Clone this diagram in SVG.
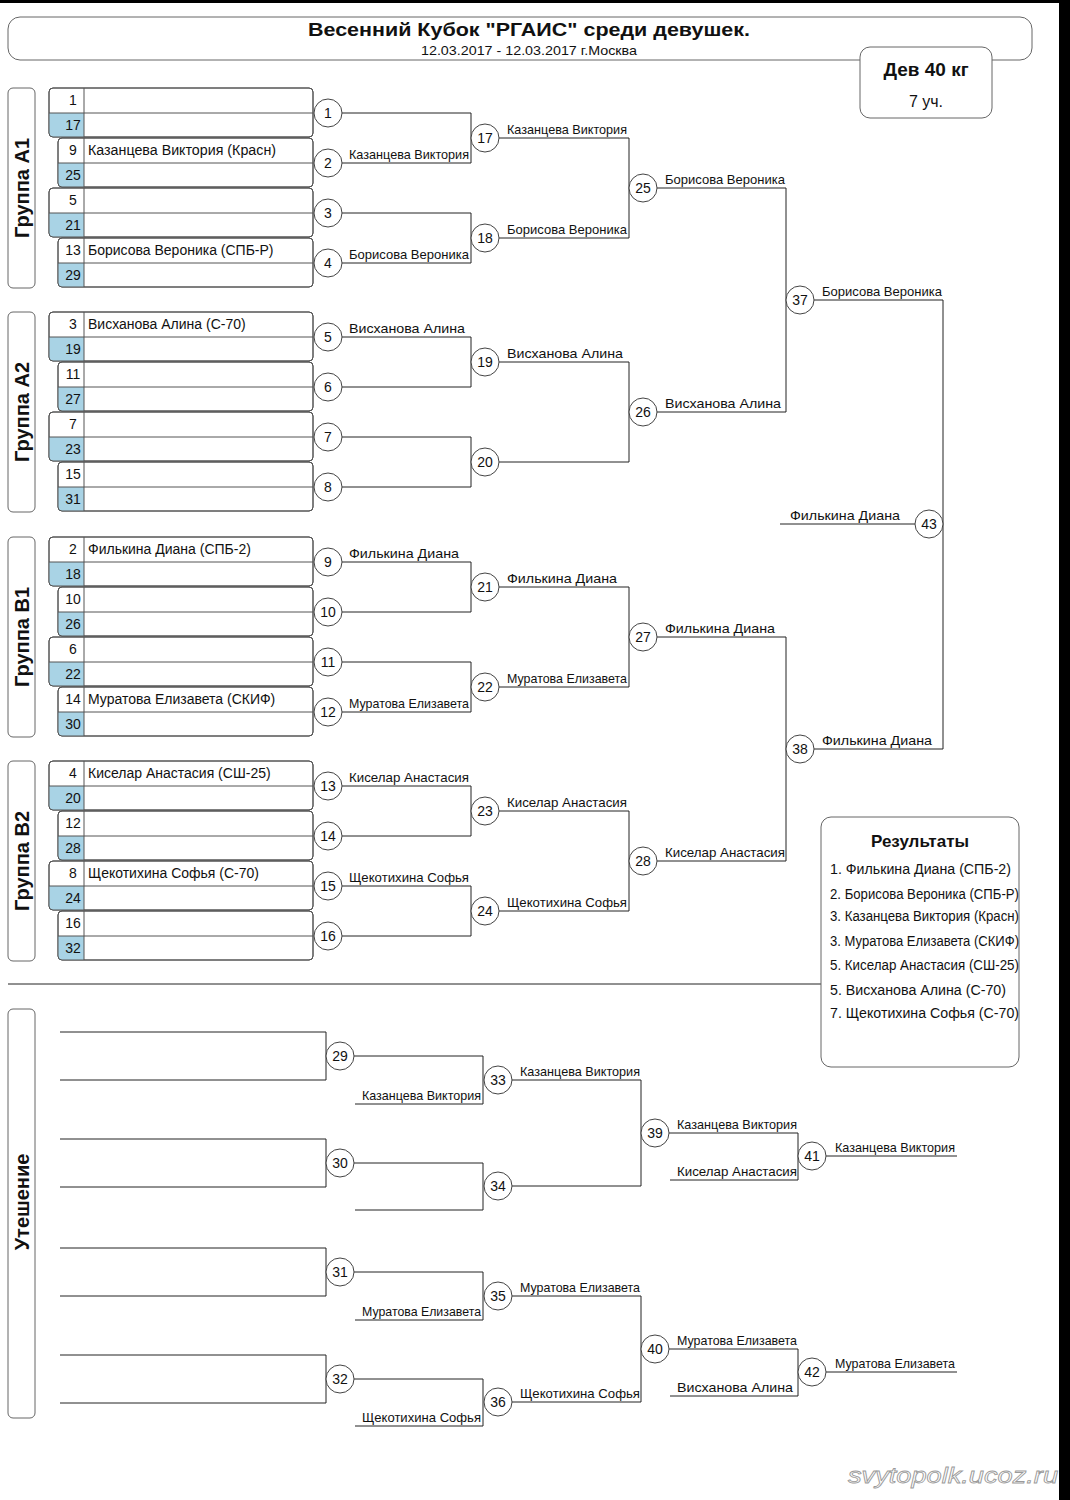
<svg xmlns="http://www.w3.org/2000/svg" width="1070" height="1500" viewBox="0 0 1070 1500">
<style>
text{font-family:"Liberation Sans",Arial,sans-serif;fill:#111}
.bx{fill:#fff;stroke:#555;stroke-width:1}
.bo{fill:none;stroke:#555;stroke-width:1}
.bl{fill:#a9d3e5}
.dv{stroke:#555;stroke-width:1}
.c{fill:#fff;stroke:#444;stroke-width:1}
.cn{font-size:14px;text-anchor:middle}
.en{font-size:14px}
.num{font-size:14px;text-anchor:middle}
.w{font-size:13px}
.ln{fill:none;stroke:#222;stroke-width:1}
.gb{fill:#fff;stroke:#666;stroke-width:1}
.gt{font-size:20px;font-weight:bold;text-anchor:middle}
.ri{font-size:14px}
</style>
<defs>
<g id="circ"><circle class="c" r="14"/></g>
</defs>
<rect x="0" y="0" width="1070" height="1500" fill="#fff"/>
<rect x="0" y="0" width="1070" height="3" fill="#000"/>
<rect x="1059" y="0" width="11" height="1500" fill="#000"/>

<g id="header">
<rect class="gb" x="8" y="17" width="1024" height="43" rx="12"/>
<text x="529" y="36" font-size="18.5" font-weight="bold" text-anchor="middle" textLength="442" lengthAdjust="spacingAndGlyphs">Весенний Кубок "РГАИС" среди девушек.</text>
<text x="529" y="55" font-size="13" text-anchor="middle" textLength="216" lengthAdjust="spacingAndGlyphs">12.03.2017 - 12.03.2017 г.Москва</text>
</g>
<g id="weight">
<rect class="gb" x="860" y="47" width="132" height="71" rx="10"/>
<text x="926" y="76" font-size="19" font-weight="bold" text-anchor="middle">Дев 40 кг</text>
<text x="926" y="107" font-size="16" text-anchor="middle">7 уч.</text>
</g>

<g id="group-labels">
<rect class="gb" x="8" y="88" width="27" height="200" rx="5"/>
<text class="gt" transform="translate(29,188) rotate(-90)">Группа А1</text>
<rect class="gb" x="8" y="312" width="27" height="200" rx="5"/>
<text class="gt" transform="translate(29,412) rotate(-90)">Группа А2</text>
<rect class="gb" x="8" y="537" width="27" height="200" rx="5"/>
<text class="gt" transform="translate(29,637) rotate(-90)">Группа В1</text>
<rect class="gb" x="8" y="761" width="27" height="200" rx="5"/>
<text class="gt" transform="translate(29,861) rotate(-90)">Группа В2</text>
<rect class="gb" x="8" y="1009" width="27" height="409" rx="5"/>
<text class="gt" transform="translate(29,1202) rotate(-90)">Утешение</text>
</g>

<g id="entries">
<g id="e1"><rect class="bx" x="49" y="88" width="264" height="49" rx="4"/><path class="bl" d="M49,113H84V137H53Q49,137 49,133Z"/><rect class="bo" x="49" y="88" width="264" height="49" rx="4"/><line class="dv" x1="49" y1="113" x2="313" y2="113"/><line class="dv" x1="84" y1="88" x2="84" y2="137"/><text class="num" x="73" y="105">1</text><text class="num" x="73" y="130">17</text></g>
<g id="e2"><rect class="bx" x="58" y="138" width="255" height="49" rx="4"/><path class="bl" d="M58,163H84V187H62Q58,187 58,183Z"/><rect class="bo" x="58" y="138" width="255" height="49" rx="4"/><line class="dv" x1="58" y1="163" x2="313" y2="163"/><line class="dv" x1="84" y1="138" x2="84" y2="187"/><text class="num" x="73" y="155">9</text><text class="num" x="73" y="180">25</text><text class="en" x="88" y="155" textLength="188" lengthAdjust="spacingAndGlyphs">Казанцева Виктория (Красн)</text></g>
<g id="e3"><rect class="bx" x="49" y="188" width="264" height="49" rx="4"/><path class="bl" d="M49,213H84V237H53Q49,237 49,233Z"/><rect class="bo" x="49" y="188" width="264" height="49" rx="4"/><line class="dv" x1="49" y1="213" x2="313" y2="213"/><line class="dv" x1="84" y1="188" x2="84" y2="237"/><text class="num" x="73" y="205">5</text><text class="num" x="73" y="230">21</text></g>
<g id="e4"><rect class="bx" x="58" y="238" width="255" height="49" rx="4"/><path class="bl" d="M58,263H84V287H62Q58,287 58,283Z"/><rect class="bo" x="58" y="238" width="255" height="49" rx="4"/><line class="dv" x1="58" y1="263" x2="313" y2="263"/><line class="dv" x1="84" y1="238" x2="84" y2="287"/><text class="num" x="73" y="255">13</text><text class="num" x="73" y="280">29</text><text class="en" x="88" y="255">Борисова Вероника (СПБ-Р)</text></g>

<g id="e5"><rect class="bx" x="49" y="312" width="264" height="49" rx="4"/><path class="bl" d="M49,337H84V361H53Q49,361 49,357Z"/><rect class="bo" x="49" y="312" width="264" height="49" rx="4"/><line class="dv" x1="49" y1="337" x2="313" y2="337"/><line class="dv" x1="84" y1="312" x2="84" y2="361"/><text class="num" x="73" y="329">3</text><text class="num" x="73" y="354">19</text><text class="en" x="88" y="329">Висханова Алина (С-70)</text></g>
<g id="e6"><rect class="bx" x="58" y="362" width="255" height="49" rx="4"/><path class="bl" d="M58,387H84V411H62Q58,411 58,407Z"/><rect class="bo" x="58" y="362" width="255" height="49" rx="4"/><line class="dv" x1="58" y1="387" x2="313" y2="387"/><line class="dv" x1="84" y1="362" x2="84" y2="411"/><text class="num" x="73" y="379">11</text><text class="num" x="73" y="404">27</text></g>
<g id="e7"><rect class="bx" x="49" y="412" width="264" height="49" rx="4"/><path class="bl" d="M49,437H84V461H53Q49,461 49,457Z"/><rect class="bo" x="49" y="412" width="264" height="49" rx="4"/><line class="dv" x1="49" y1="437" x2="313" y2="437"/><line class="dv" x1="84" y1="412" x2="84" y2="461"/><text class="num" x="73" y="429">7</text><text class="num" x="73" y="454">23</text></g>
<g id="e8"><rect class="bx" x="58" y="462" width="255" height="49" rx="4"/><path class="bl" d="M58,487H84V511H62Q58,511 58,507Z"/><rect class="bo" x="58" y="462" width="255" height="49" rx="4"/><line class="dv" x1="58" y1="487" x2="313" y2="487"/><line class="dv" x1="84" y1="462" x2="84" y2="511"/><text class="num" x="73" y="479">15</text><text class="num" x="73" y="504">31</text></g>

<g id="e9"><rect class="bx" x="49" y="537" width="264" height="49" rx="4"/><path class="bl" d="M49,562H84V586H53Q49,586 49,582Z"/><rect class="bo" x="49" y="537" width="264" height="49" rx="4"/><line class="dv" x1="49" y1="562" x2="313" y2="562"/><line class="dv" x1="84" y1="537" x2="84" y2="586"/><text class="num" x="73" y="554">2</text><text class="num" x="73" y="579">18</text><text class="en" x="88" y="554">Филькина Диана (СПБ-2)</text></g>
<g id="e10"><rect class="bx" x="58" y="587" width="255" height="49" rx="4"/><path class="bl" d="M58,612H84V636H62Q58,636 58,632Z"/><rect class="bo" x="58" y="587" width="255" height="49" rx="4"/><line class="dv" x1="58" y1="612" x2="313" y2="612"/><line class="dv" x1="84" y1="587" x2="84" y2="636"/><text class="num" x="73" y="604">10</text><text class="num" x="73" y="629">26</text></g>
<g id="e11"><rect class="bx" x="49" y="637" width="264" height="49" rx="4"/><path class="bl" d="M49,662H84V686H53Q49,686 49,682Z"/><rect class="bo" x="49" y="637" width="264" height="49" rx="4"/><line class="dv" x1="49" y1="662" x2="313" y2="662"/><line class="dv" x1="84" y1="637" x2="84" y2="686"/><text class="num" x="73" y="654">6</text><text class="num" x="73" y="679">22</text></g>
<g id="e12"><rect class="bx" x="58" y="687" width="255" height="49" rx="4"/><path class="bl" d="M58,712H84V736H62Q58,736 58,732Z"/><rect class="bo" x="58" y="687" width="255" height="49" rx="4"/><line class="dv" x1="58" y1="712" x2="313" y2="712"/><line class="dv" x1="84" y1="687" x2="84" y2="736"/><text class="num" x="73" y="704">14</text><text class="num" x="73" y="729">30</text><text class="en" x="88" y="704">Муратова Елизавета (СКИФ)</text></g>

<g id="e13"><rect class="bx" x="49" y="761" width="264" height="49" rx="4"/><path class="bl" d="M49,786H84V810H53Q49,810 49,806Z"/><rect class="bo" x="49" y="761" width="264" height="49" rx="4"/><line class="dv" x1="49" y1="786" x2="313" y2="786"/><line class="dv" x1="84" y1="761" x2="84" y2="810"/><text class="num" x="73" y="778">4</text><text class="num" x="73" y="803">20</text><text class="en" x="88" y="778">Киселар Анастасия (СШ-25)</text></g>
<g id="e14"><rect class="bx" x="58" y="811" width="255" height="49" rx="4"/><path class="bl" d="M58,836H84V860H62Q58,860 58,856Z"/><rect class="bo" x="58" y="811" width="255" height="49" rx="4"/><line class="dv" x1="58" y1="836" x2="313" y2="836"/><line class="dv" x1="84" y1="811" x2="84" y2="860"/><text class="num" x="73" y="828">12</text><text class="num" x="73" y="853">28</text></g>
<g id="e15"><rect class="bx" x="49" y="861" width="264" height="49" rx="4"/><path class="bl" d="M49,886H84V910H53Q49,910 49,906Z"/><rect class="bo" x="49" y="861" width="264" height="49" rx="4"/><line class="dv" x1="49" y1="886" x2="313" y2="886"/><line class="dv" x1="84" y1="861" x2="84" y2="910"/><text class="num" x="73" y="878">8</text><text class="num" x="73" y="903">24</text><text class="en" x="88" y="878">Щекотихина Софья (С-70)</text></g>
<g id="e16"><rect class="bx" x="58" y="911" width="255" height="49" rx="4"/><path class="bl" d="M58,936H84V960H62Q58,960 58,956Z"/><rect class="bo" x="58" y="911" width="255" height="49" rx="4"/><line class="dv" x1="58" y1="936" x2="313" y2="936"/><line class="dv" x1="84" y1="911" x2="84" y2="960"/><text class="num" x="73" y="928">16</text><text class="num" x="73" y="953">32</text></g>
</g>

<g id="connectors">
<path class="ln" d="M342,113H471V163H342M342,213H471V263H342M342,337H471V387H342M342,437H471V487H342M342,562H471V612H342M342,662H471V712H342M342,786H471V836H342M342,886H471V936H342"/>
<path class="ln" d="M499,138H629V238H499M499,362H629V462H499M499,587H629V687H499M499,811H629V911H499"/>
<path class="ln" d="M657,188H786V412H657M657,637H786V861H657"/>
<path class="ln" d="M814,300H943V749H814"/>
<path class="ln" d="M780,524H915"/>
<line class="ln" x1="8" y1="984" x2="821" y2="984"/>
<path class="ln" d="M60,1032H326V1080H60M354,1056H483V1104H355M60,1139H326V1187H60M354,1163H483V1210H355M512,1080H641V1186H512M669,1133H798V1180H670M826,1156H957"/>
<path class="ln" d="M60,1248H326V1296H60M354,1272H483V1320H355M60,1355H326V1403H60M354,1379H483V1426H355M512,1296H641V1402H512M669,1349H798V1396H670M826,1372H957"/>
</g>

<g id="labels">
<text class="w" x="349" y="159" textLength="120" lengthAdjust="spacingAndGlyphs">Казанцева Виктория</text>
<text class="w" x="349" y="259" textLength="120" lengthAdjust="spacingAndGlyphs">Борисова Вероника</text>
<text class="w" x="349" y="333" textLength="116" lengthAdjust="spacingAndGlyphs">Висханова Алина</text>
<text class="w" x="349" y="558" textLength="110" lengthAdjust="spacingAndGlyphs">Филькина Диана</text>
<text class="w" x="349" y="708" textLength="120" lengthAdjust="spacingAndGlyphs">Муратова Елизавета</text>
<text class="w" x="349" y="782" textLength="120" lengthAdjust="spacingAndGlyphs">Киселар Анастасия</text>
<text class="w" x="349" y="882" textLength="120" lengthAdjust="spacingAndGlyphs">Щекотихина Софья</text>
<text class="w" x="507" y="134" textLength="120" lengthAdjust="spacingAndGlyphs">Казанцева Виктория</text>
<text class="w" x="507" y="234" textLength="120" lengthAdjust="spacingAndGlyphs">Борисова Вероника</text>
<text class="w" x="507" y="358" textLength="116" lengthAdjust="spacingAndGlyphs">Висханова Алина</text>
<text class="w" x="507" y="583" textLength="110" lengthAdjust="spacingAndGlyphs">Филькина Диана</text>
<text class="w" x="507" y="683" textLength="120" lengthAdjust="spacingAndGlyphs">Муратова Елизавета</text>
<text class="w" x="507" y="807" textLength="120" lengthAdjust="spacingAndGlyphs">Киселар Анастасия</text>
<text class="w" x="507" y="907" textLength="120" lengthAdjust="spacingAndGlyphs">Щекотихина Софья</text>
<text class="w" x="665" y="184" textLength="120" lengthAdjust="spacingAndGlyphs">Борисова Вероника</text>
<text class="w" x="665" y="408" textLength="116" lengthAdjust="spacingAndGlyphs">Висханова Алина</text>
<text class="w" x="665" y="633" textLength="110" lengthAdjust="spacingAndGlyphs">Филькина Диана</text>
<text class="w" x="665" y="857" textLength="120" lengthAdjust="spacingAndGlyphs">Киселар Анастасия</text>
<text class="w" x="822" y="296" textLength="120" lengthAdjust="spacingAndGlyphs">Борисова Вероника</text>
<text class="w" x="822" y="745" textLength="110" lengthAdjust="spacingAndGlyphs">Филькина Диана</text>
<text class="w" x="790" y="520" textLength="110" lengthAdjust="spacingAndGlyphs">Филькина Диана</text>
<text class="w" x="362" y="1100" textLength="119" lengthAdjust="spacingAndGlyphs">Казанцева Виктория</text>
<text class="w" x="520" y="1076" textLength="120" lengthAdjust="spacingAndGlyphs">Казанцева Виктория</text>
<text class="w" x="677" y="1129" textLength="120" lengthAdjust="spacingAndGlyphs">Казанцева Виктория</text>
<text class="w" x="677" y="1176" textLength="120" lengthAdjust="spacingAndGlyphs">Киселар Анастасия</text>
<text class="w" x="835" y="1152" textLength="120" lengthAdjust="spacingAndGlyphs">Казанцева Виктория</text>
<text class="w" x="362" y="1316" textLength="119" lengthAdjust="spacingAndGlyphs">Муратова Елизавета</text>
<text class="w" x="362" y="1422" textLength="119" lengthAdjust="spacingAndGlyphs">Щекотихина Софья</text>
<text class="w" x="520" y="1292" textLength="120" lengthAdjust="spacingAndGlyphs">Муратова Елизавета</text>
<text class="w" x="520" y="1398" textLength="120" lengthAdjust="spacingAndGlyphs">Щекотихина Софья</text>
<text class="w" x="677" y="1345" textLength="120" lengthAdjust="spacingAndGlyphs">Муратова Елизавета</text>
<text class="w" x="677" y="1392" textLength="116" lengthAdjust="spacingAndGlyphs">Висханова Алина</text>
<text class="w" x="835" y="1368" textLength="120" lengthAdjust="spacingAndGlyphs">Муратова Елизавета</text>
</g>

<g id="matches">
<g id="m1"><use href="#circ" x="328" y="113"/><text class="cn" x="328" y="118">1</text></g>
<g id="m2"><use href="#circ" x="328" y="163"/><text class="cn" x="328" y="168">2</text></g>
<g id="m3"><use href="#circ" x="328" y="213"/><text class="cn" x="328" y="218">3</text></g>
<g id="m4"><use href="#circ" x="328" y="263"/><text class="cn" x="328" y="268">4</text></g>
<g id="m5"><use href="#circ" x="328" y="337"/><text class="cn" x="328" y="342">5</text></g>
<g id="m6"><use href="#circ" x="328" y="387"/><text class="cn" x="328" y="392">6</text></g>
<g id="m7"><use href="#circ" x="328" y="437"/><text class="cn" x="328" y="442">7</text></g>
<g id="m8"><use href="#circ" x="328" y="487"/><text class="cn" x="328" y="492">8</text></g>
<g id="m9"><use href="#circ" x="328" y="562"/><text class="cn" x="328" y="567">9</text></g>
<g id="m10"><use href="#circ" x="328" y="612"/><text class="cn" x="328" y="617">10</text></g>
<g id="m11"><use href="#circ" x="328" y="662"/><text class="cn" x="328" y="667">11</text></g>
<g id="m12"><use href="#circ" x="328" y="712"/><text class="cn" x="328" y="717">12</text></g>
<g id="m13"><use href="#circ" x="328" y="786"/><text class="cn" x="328" y="791">13</text></g>
<g id="m14"><use href="#circ" x="328" y="836"/><text class="cn" x="328" y="841">14</text></g>
<g id="m15"><use href="#circ" x="328" y="886"/><text class="cn" x="328" y="891">15</text></g>
<g id="m16"><use href="#circ" x="328" y="936"/><text class="cn" x="328" y="941">16</text></g>
<g id="m17"><use href="#circ" x="485" y="138"/><text class="cn" x="485" y="143">17</text></g>
<g id="m18"><use href="#circ" x="485" y="238"/><text class="cn" x="485" y="243">18</text></g>
<g id="m19"><use href="#circ" x="485" y="362"/><text class="cn" x="485" y="367">19</text></g>
<g id="m20"><use href="#circ" x="485" y="462"/><text class="cn" x="485" y="467">20</text></g>
<g id="m21"><use href="#circ" x="485" y="587"/><text class="cn" x="485" y="592">21</text></g>
<g id="m22"><use href="#circ" x="485" y="687"/><text class="cn" x="485" y="692">22</text></g>
<g id="m23"><use href="#circ" x="485" y="811"/><text class="cn" x="485" y="816">23</text></g>
<g id="m24"><use href="#circ" x="485" y="911"/><text class="cn" x="485" y="916">24</text></g>
<g id="m25"><use href="#circ" x="643" y="188"/><text class="cn" x="643" y="193">25</text></g>
<g id="m26"><use href="#circ" x="643" y="412"/><text class="cn" x="643" y="417">26</text></g>
<g id="m27"><use href="#circ" x="643" y="637"/><text class="cn" x="643" y="642">27</text></g>
<g id="m28"><use href="#circ" x="643" y="861"/><text class="cn" x="643" y="866">28</text></g>
<g id="m37"><use href="#circ" x="800" y="300"/><text class="cn" x="800" y="305">37</text></g>
<g id="m38"><use href="#circ" x="800" y="749"/><text class="cn" x="800" y="754">38</text></g>
<g id="m43"><use href="#circ" x="929" y="524"/><text class="cn" x="929" y="529">43</text></g>
<g id="m29"><use href="#circ" x="340" y="1056"/><text class="cn" x="340" y="1061">29</text></g>
<g id="m30"><use href="#circ" x="340" y="1163"/><text class="cn" x="340" y="1168">30</text></g>
<g id="m33"><use href="#circ" x="498" y="1080"/><text class="cn" x="498" y="1085">33</text></g>
<g id="m34"><use href="#circ" x="498" y="1186"/><text class="cn" x="498" y="1191">34</text></g>
<g id="m39"><use href="#circ" x="655" y="1133"/><text class="cn" x="655" y="1138">39</text></g>
<g id="m41"><use href="#circ" x="812" y="1156"/><text class="cn" x="812" y="1161">41</text></g>
<g id="m31"><use href="#circ" x="340" y="1272"/><text class="cn" x="340" y="1277">31</text></g>
<g id="m32"><use href="#circ" x="340" y="1379"/><text class="cn" x="340" y="1384">32</text></g>
<g id="m35"><use href="#circ" x="498" y="1296"/><text class="cn" x="498" y="1301">35</text></g>
<g id="m36"><use href="#circ" x="498" y="1402"/><text class="cn" x="498" y="1407">36</text></g>
<g id="m40"><use href="#circ" x="655" y="1349"/><text class="cn" x="655" y="1354">40</text></g>
<g id="m42"><use href="#circ" x="812" y="1372"/><text class="cn" x="812" y="1377">42</text></g>
</g>

<g id="results">
<rect class="gb" x="821" y="817" width="198" height="250" rx="10"/>
<text x="920" y="847" font-size="17" font-weight="bold" text-anchor="middle">Результаты</text>
<text class="ri" x="830" y="874" textLength="181" lengthAdjust="spacingAndGlyphs">1. Филькина Диана (СПБ-2)</text>
<text class="ri" x="830" y="899" textLength="189" lengthAdjust="spacingAndGlyphs">2. Борисова Вероника (СПБ-Р)</text>
<text class="ri" x="830" y="921" textLength="189" lengthAdjust="spacingAndGlyphs">3. Казанцева Виктория (Красн)</text>
<text class="ri" x="830" y="946" textLength="189" lengthAdjust="spacingAndGlyphs">3. Муратова Елизавета (СКИФ)</text>
<text class="ri" x="830" y="970" textLength="189" lengthAdjust="spacingAndGlyphs">5. Киселар Анастасия (СШ-25)</text>
<text class="ri" x="830" y="995" textLength="176" lengthAdjust="spacingAndGlyphs">5. Висханова Алина (С-70)</text>
<text class="ri" x="830" y="1018" textLength="189" lengthAdjust="spacingAndGlyphs">7. Щекотихина Софья (С-70)</text>
</g>

<text x="848" y="1483" font-family="'DejaVu Sans',sans-serif" font-size="22" font-style="italic" style="fill:#fff" stroke="#9a9a9a" stroke-width="0.8" textLength="210" lengthAdjust="spacingAndGlyphs">svytopolk.ucoz.ru</text>
</svg>
